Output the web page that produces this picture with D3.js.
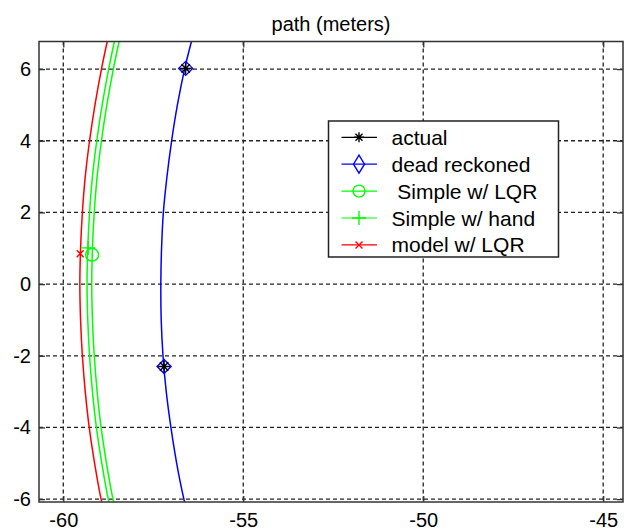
<!DOCTYPE html>
<html>
<head>
<meta charset="utf-8">
<script src="https://cdn.jsdelivr.net/npm/d3@7"></script>
<style>
  html, body { margin: 0; padding: 0; background: #fff; }
  svg { display: block; font-family: "Liberation Sans", Arial, sans-serif; }
</style>
</head>
<body>
<svg id="chart" width="629" height="531"></svg>
<script>
// Sampled north positions (m) shared by the path curves
const pathY = [6.77, 6, 5, 4, 3, 2, 1, 0, -1, -2, -3, -4, -5, -6, -6.08];

// East positions (m) of each path at the sampled north positions
const deadReckonedX = [-56.44, -56.63, -56.83, -56.99, -57.12, -57.22, -57.27, -57.29, -57.28, -57.23, -57.14, -57.01, -56.85, -56.65, -56.63];
const simpleLqrX    = [-58.45, -58.61, -58.79, -58.94, -59.06, -59.14, -59.19, -59.21, -59.19, -59.14, -59.06, -58.95, -58.80, -58.62, -58.60];
const simpleHandX   = [-58.58, -58.74, -58.92, -59.07, -59.19, -59.27, -59.32, -59.34, -59.32, -59.27, -59.19, -59.08, -58.93, -58.75, -58.73];
const modelLqrX     = [-58.78, -58.94, -59.12, -59.27, -59.39, -59.47, -59.52, -59.54, -59.52, -59.47, -59.39, -59.28, -59.13, -58.95, -58.93];

// Marker positions
const actualX = [-56.60, -57.20];
const actualY = [6.02, -2.30];
const deadMarkX = [-56.60, -57.20];
const deadMarkY = [6.02, -2.30];
const simpleLqrMark = [-59.20, 0.82];
const simpleHandMark = [-59.31, 1.01];
const modelLqrMark = [-59.53, 0.85];

// Axis ticks and labels
const xTicks = [-60, -55, -50, -45];
const yTicks = [-6, -4, -2, 0, 2, 4, 6];
const legendLabels = ["actual", "dead reckoned", " Simple w/ LQR", "Simple w/ hand", "model w/ LQR"];
const legendColors = ["#000000", "#0000ff", "#00ff00", "#00ff00", "#ff0000"];
const legendMarkers = ["star", "diamond", "circle", "plus", "cross"];
const titleText = "path (meters)";

const svg = d3.select("#chart");
const plotLeft = 39, plotRight = 623, plotTop = 41.5, plotBottom = 502;

const x = d3.scaleLinear().domain([-60.675, -44.45]).range([plotLeft, plotRight]);
const y = d3.scaleLinear().domain([-6.08, 6.77]).range([plotBottom, plotTop]);

// Plain hyphen minus for tick labels
const fmt = d => String(d);

// Title
svg.append("text")
  .attr("x", (plotLeft + plotRight) / 2)
  .attr("y", 31)
  .attr("text-anchor", "middle")
  .attr("font-size", 20)
  .attr("fill", "#000")
  .text(titleText);

// Grid
const grid = svg.append("g")
  .attr("stroke", "#222")
  .attr("stroke-width", 1.3)
  .attr("stroke-dasharray", "4,3");
grid.selectAll("line.gx").data(xTicks).join("line").attr("class", "gx")
  .attr("x1", d => x(d)).attr("x2", d => x(d))
  .attr("y1", plotTop).attr("y2", plotBottom);
grid.selectAll("line.gy").data(yTicks).join("line").attr("class", "gy")
  .attr("x1", plotLeft).attr("x2", plotRight)
  .attr("y1", d => y(d)).attr("y2", d => y(d));

// Axes with inward ticks on all four sides
function styleAxis(g) {
  g.select(".domain").remove();
  g.selectAll(".tick line").attr("stroke", "#333").attr("stroke-width", 1.3);
  g.selectAll(".tick text").attr("fill", "#000").attr("font-size", 20)
    .attr("font-family", "'Liberation Sans', Arial, sans-serif");
}
svg.append("g").attr("transform", `translate(0,${plotBottom})`)
  .call(d3.axisBottom(x).tickValues(xTicks).tickFormat(fmt).tickSizeInner(-6).tickSizeOuter(0).tickPadding(11))
  .call(styleAxis);
svg.append("g").attr("transform", `translate(${plotLeft},0)`)
  .call(d3.axisLeft(y).tickValues(yTicks).tickFormat(fmt).tickSizeInner(-6).tickSizeOuter(0).tickPadding(8))
  .call(styleAxis);
svg.append("g").attr("transform", `translate(0,${plotTop})`)
  .call(d3.axisTop(x).tickValues(xTicks).tickSizeInner(-6).tickSizeOuter(0).tickFormat(""))
  .call(styleAxis);
svg.append("g").attr("transform", `translate(${plotRight},0)`)
  .call(d3.axisRight(y).tickValues(yTicks).tickSizeInner(-6).tickSizeOuter(0).tickFormat(""))
  .call(styleAxis);

// Clip region for the paths
svg.append("clipPath").attr("id", "plotclip")
  .append("rect").attr("x", plotLeft).attr("y", plotTop)
  .attr("width", plotRight - plotLeft).attr("height", plotBottom - plotTop);

const plot = svg.append("g").attr("clip-path", "url(#plotclip)");
const line = d3.line().x(d => x(d[0])).y(d => y(d[1])).curve(d3.curveCatmullRom);

const paths = [
  { xs: deadReckonedX, color: "#0000ff" },
  { xs: simpleLqrX, color: "#00ff00" },
  { xs: simpleHandX, color: "#00ff00" },
  { xs: modelLqrX, color: "#ff0000" }
];
paths.forEach(p => {
  plot.append("path")
    .datum(p.xs.map((v, i) => [v, pathY[i]]))
    .attr("fill", "none")
    .attr("stroke", p.color)
    .attr("stroke-width", 1.5)
    .attr("d", line);
});

// Marker drawing
function marker(g, type, cx, cy, color, s) {
  const m = g.append("g").attr("transform", `translate(${cx},${cy})`)
    .attr("stroke", color).attr("stroke-width", 1.4).attr("fill", "none");
  if (type === "star") {
    m.append("path").attr("d", `M${-s},0H${s}M0,${-s}V${s}M${-s*0.7},${-s*0.7}L${s*0.7},${s*0.7}M${-s*0.7},${s*0.7}L${s*0.7},${-s*0.7}`);
  } else if (type === "diamond") {
    m.append("path").attr("d", `M0,${-s}L${s},0L0,${s}L${-s},0Z`);
  } else if (type === "circle") {
    m.append("circle").attr("r", s);
  } else if (type === "plus") {
    m.append("path").attr("d", `M${-s},0H${s}M0,${-s}V${s}`);
  } else if (type === "cross") {
    m.append("path").attr("d", `M${-s},${-s}L${s},${s}M${-s},${s}L${s},${-s}`);
  }
  return m;
}

const marks = svg.append("g");
deadMarkX.forEach((v, i) => marker(marks, "diamond", x(v), y(deadMarkY[i]), "#0000ff", 7));
actualX.forEach((v, i) => marker(marks, "star", x(v), y(actualY[i]), "#000000", 6));
marker(marks, "circle", x(simpleLqrMark[0]), y(simpleLqrMark[1]), "#00ff00", 6.5);
marker(marks, "plus", x(simpleHandMark[0]), y(simpleHandMark[1]), "#00ff00", 7);
marker(marks, "cross", x(modelLqrMark[0]), y(modelLqrMark[1]), "#ff0000", 3.5);

// Legend
const lg = svg.append("g");
lg.append("rect")
  .attr("x", 328.5).attr("y", 121).attr("width", 230).attr("height", 136)
  .attr("fill", "#fff").attr("stroke", "#222").attr("stroke-width", 1.5);
legendLabels.forEach((label, i) => {
  const cy = 137.3 + i * 26.9;
  lg.append("line").attr("x1", 341.5).attr("x2", 377).attr("y1", cy).attr("y2", cy)
    .attr("stroke", legendColors[i]).attr("stroke-width", 1.2);
  const t = legendMarkers[i];
  if (t === "diamond") {
    lg.append("path").attr("d", `M359,${cy - 9}L364.5,${cy}L359,${cy + 9}L353.5,${cy}Z`)
      .attr("fill", "none").attr("stroke", legendColors[i]).attr("stroke-width", 1.4);
  } else {
    const size = t === "cross" ? 3.5 : (t === "circle" ? 6 : (t === "star" ? 5 : 7));
    marker(lg, t, 359, cy, legendColors[i], size);
  }
  lg.append("text")
    .attr("x", 391.5).attr("y", cy).attr("dy", "0.36em")
    .attr("font-size", 21).attr("fill", "#000")
    .attr("xml:space", "preserve")
    .style("white-space", "pre")
    .text(label);
});

// Box
svg.append("rect")
  .attr("x", plotLeft).attr("y", plotTop).attr("width", plotRight - plotLeft).attr("height", plotBottom - plotTop)
  .attr("fill", "none").attr("stroke", "#333").attr("stroke-width", 1.5);
</script>
</body>
</html>
